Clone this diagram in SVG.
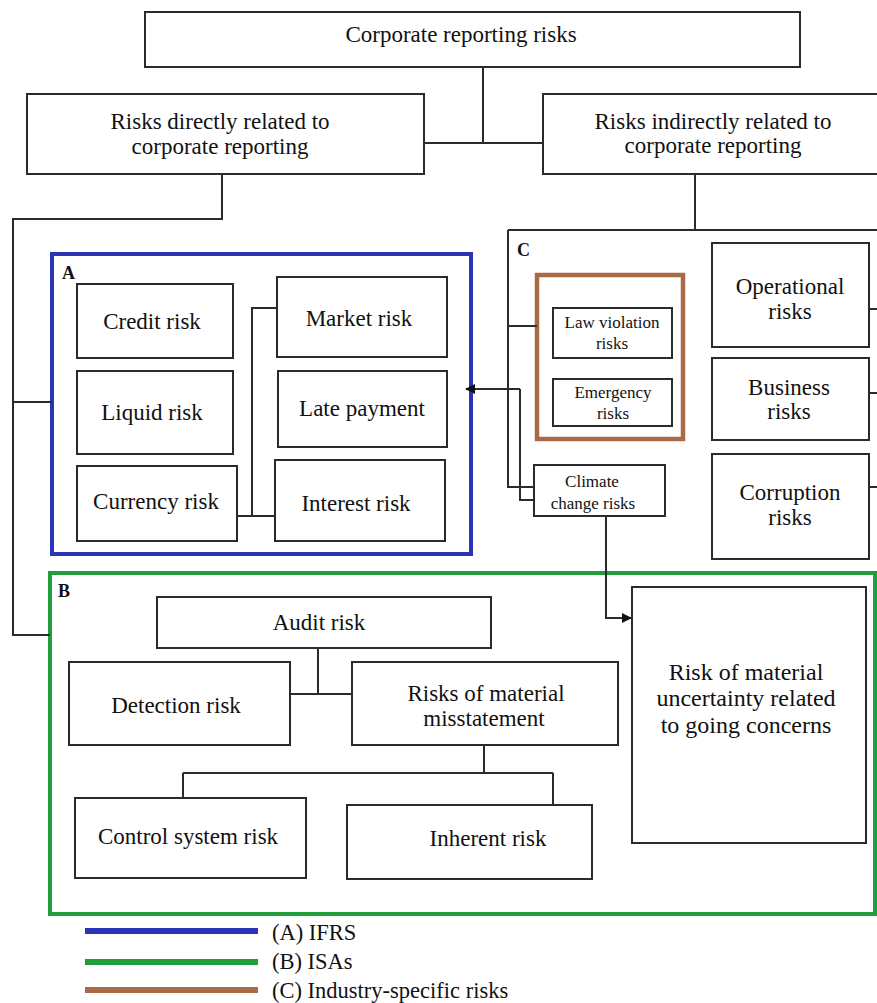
<svg xmlns="http://www.w3.org/2000/svg" width="877" height="1003" viewBox="0 0 877 1003">
<style>
.box{fill:#fff;stroke:#2b2b2b;stroke-width:2}
.ln{fill:none;stroke:#2b2b2b;stroke-width:2}
text{font-family:"Liberation Serif","DejaVu Serif",serif}
.t{fill:#111;text-anchor:middle}
.lbl{font-weight:bold;font-size:18px;fill:#111}
.f20{font-size:23px}
.f15{font-size:17px}
.f21{font-size:24px}
.leg{font-size:22.5px;fill:#111}
</style>
<defs>
<marker id="ah" markerWidth="10" markerHeight="10" refX="9" refY="5" orient="auto" markerUnits="userSpaceOnUse">
<path d="M0,0 L10,5 L0,10 Z" fill="#111"/>
</marker>
</defs>
<rect width="877" height="1003" fill="#fff"/>

<g id="groupA"><rect x="52" y="254" width="419" height="300" fill="none" stroke="#2b33b6" stroke-width="4"/><text class="lbl" x="62" y="279">A</text></g>
<g id="groupB"><rect x="50" y="573" width="825" height="341" fill="none" stroke="#1f9e3a" stroke-width="4"/><text class="lbl" x="58" y="597">B</text></g>
<g id="groupC"><rect x="537" y="275" width="146" height="164" fill="none" stroke="#a86a47" stroke-width="4.5"/><text class="lbl" x="517" y="256">C</text></g>

<g id="connectors">
<path class="ln" d="M483,67 V143 M424,143 H543"/>
<path class="ln" d="M222,174 V219 H13 V635 H50 M13,402 H52"/>
<path class="ln" d="M695,174 V230 M508,230 H877 M508,230 V487 H534 M508,326 H537"/>
<path class="ln" d="M520,389 V500 H534 M520,389 H466" marker-end="url(#ah)"/>
<path class="ln" d="M252,516 V308 H277 M234,516 H275"/>
<path class="ln" d="M869,309 H877 M869,393 H877 M869,487 H877"/>
<path class="ln" d="M606,516 V618 H631" marker-end="url(#ah)"/>
<path class="ln" d="M318,648 V694 M290,694 H352"/>
<path class="ln" d="M484,745 V773 M183,773 H553 M183,773 V798 M553,773 V805"/>
</g>

<g id="top"><rect class="box" x="145" y="12" width="655" height="55"/><text class="t f20" x="461" y="42">Corporate reporting risks</text></g>
<g id="direct"><rect class="box" x="27" y="94" width="397" height="80"/><text class="t f20" x="220" y="129">Risks directly related to</text><text class="t f20" x="220" y="154">corporate reporting</text></g>
<g id="indirect"><rect class="box" x="543" y="94" width="340" height="80"/><text class="t f20" x="713" y="129">Risks indirectly related to</text><text class="t f20" x="713" y="153">corporate reporting</text></g>

<g id="credit"><rect class="box" x="77" y="284" width="156" height="74"/><text class="t f20" x="152" y="329">Credit risk</text></g>
<g id="liquid"><rect class="box" x="77" y="371" width="156" height="83"/><text class="t f20" x="152" y="420">Liquid risk</text></g>
<g id="currency"><rect class="box" x="77" y="466" width="160" height="75"/><text class="t f20" x="156" y="509">Currency risk</text></g>
<g id="market"><rect class="box" x="277" y="277" width="170" height="80"/><text class="t f20" x="359" y="326">Market risk</text></g>
<g id="late"><rect class="box" x="278" y="371" width="169" height="76"/><text class="t f20" x="362" y="416">Late payment</text></g>
<g id="interest"><rect class="box" x="275" y="460" width="170" height="81"/><text class="t f20" x="356" y="511">Interest risk</text></g>

<g id="law"><rect class="box" x="553" y="308" width="119" height="50"/><text class="t f15" x="612" y="328">Law violation</text><text class="t f15" x="612" y="349">risks</text></g>
<g id="emergency"><rect class="box" x="553" y="379" width="119" height="47"/><text class="t f15" x="613" y="398">Emergency</text><text class="t f15" x="613" y="419">risks</text></g>
<g id="climate"><rect class="box" x="534" y="465" width="131" height="51"/><text class="t f15" x="592" y="487">Climate</text><text class="t f15" x="593" y="509">change risks</text></g>
<g id="operational"><rect class="box" x="712" y="243" width="157" height="104"/><text class="t f20" x="790" y="294">Operational</text><text class="t f20" x="790" y="319">risks</text></g>
<g id="business"><rect class="box" x="712" y="358" width="157" height="82"/><text class="t f20" x="789" y="395">Business</text><text class="t f20" x="789" y="419">risks</text></g>
<g id="corruption"><rect class="box" x="712" y="454" width="157" height="105"/><text class="t f20" x="790" y="500">Corruption</text><text class="t f20" x="790" y="525">risks</text></g>

<g id="audit"><rect class="box" x="157" y="597" width="334" height="51"/><text class="t f20" x="319" y="630">Audit risk</text></g>
<g id="detection"><rect class="box" x="69" y="662" width="221" height="83"/><text class="t f20" x="176" y="713">Detection risk</text></g>
<g id="misstatement"><rect class="box" x="352" y="662" width="266" height="83"/><text class="t f20" x="486" y="701">Risks of material</text><text class="t f20" x="484" y="726">misstatement</text></g>
<g id="control"><rect class="box" x="75" y="798" width="231" height="80"/><text class="t f20" x="188" y="844">Control system risk</text></g>
<g id="inherent"><rect class="box" x="347" y="805" width="245" height="74"/><text class="t f20" x="488" y="846">Inherent risk</text></g>
<g id="goingconcern"><rect class="box" x="632" y="587" width="234" height="256"/><text class="t f21" x="746" y="680">Risk of material</text><text class="t f21" x="746" y="706">uncertainty related</text><text class="t f21" x="746" y="733">to going concerns</text></g>

<g id="legend">
<line x1="85" y1="931" x2="258" y2="931" stroke="#2b33b6" stroke-width="6"/>
<line x1="85" y1="962" x2="258" y2="962" stroke="#1f9e3a" stroke-width="6"/>
<line x1="85" y1="990" x2="258" y2="990" stroke="#a86a47" stroke-width="6"/>
<text class="leg" x="272" y="940">(A) IFRS</text>
<text class="leg" x="272" y="969">(B) ISAs</text>
<text class="leg" x="272" y="998">(C) Industry-specific risks</text>
</g>
</svg>
